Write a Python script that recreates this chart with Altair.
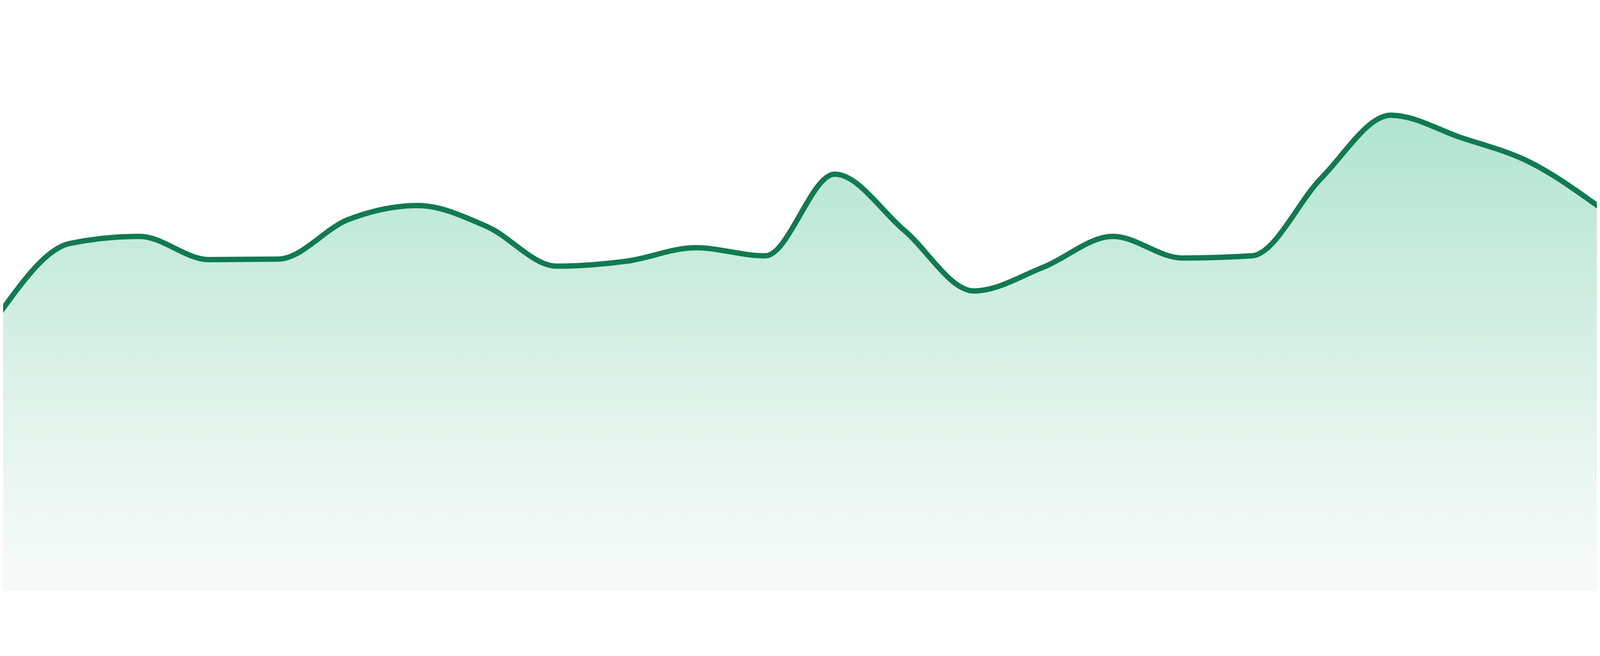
import altair as alt
import pandas as pd

# Data points (evenly spaced index) and values (0-100 scale)
index = list(range(24))
values = [51.5, 64.2, 65.5, 61.2, 61.3, 68.6, 71.2, 67.3, 60.0, 60.9, 63.4, 61.9,
          77.0, 66.6, 55.4, 59.8, 65.5, 61.5, 61.9, 76.3, 87.9, 83.8, 79.2, 70.9]

df = pd.DataFrame({"i": index, "v": values})

x = alt.X("i:Q", scale=alt.Scale(domain=[0.0383, 22.9617], nice=False, zero=False), axis=None)
y = alt.Y("v:Q", scale=alt.Scale(domain=[0, 100], nice=False), axis=None)

grad = alt.Gradient(
    gradient="linear",
    stops=[
        alt.GradientStop(color="#b0e5ce", offset=0),
        alt.GradientStop(color="#d8f0e6", offset=0.5),
        alt.GradientStop(color="#eaf7f1", offset=0.75),
        alt.GradientStop(color="#f7fbfa", offset=1),
    ],
    x1=0, x2=0, y1=0, y2=1,
)

area = alt.Chart(df).mark_area(interpolate="monotone", clip=True, color=grad).encode(x=x, y=y)
line = alt.Chart(df).mark_line(
    interpolate="monotone", clip=True, color="#117a51", strokeWidth=16, strokeCap="round"
).encode(x=x, y=y)

chart = (area + line).properties(
    width=4784, height=1624, padding=0,
    autosize=alt.AutoSizeParams(type="none"),
    background="white",
).configure_view(stroke=None)

chart.save("out.html", embed_options={"renderer": "svg", "actions": False})
